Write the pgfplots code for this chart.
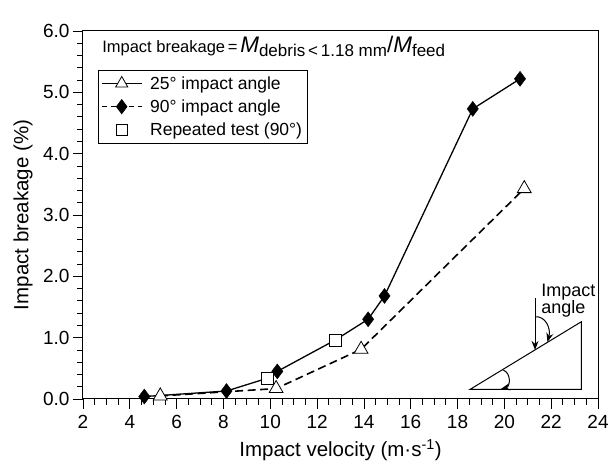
\documentclass[border=0pt]{standalone}
\usepackage{pgfplots}
\pgfplotsset{compat=1.18}
\usepackage{fontspec}
\setmainfont{Liberation Sans}
\usetikzlibrary{arrows.meta}

\pgfplotsset{
  linelegend/.style={legend image code/.code={\draw[mark repeat=2, mark phase=2, ##1] plot coordinates {(0pt,0pt) (20pt,0pt) (40pt,0pt)};}},
  sqlegend/.style={legend image code/.code={\draw[##1] plot coordinates {(20pt,0pt)};}},
}

\pgfplotstableread{
x y
5.30 0.05
10.25 0.17
13.88 0.81
20.85 3.43
}\tritable

\pgfplotstableread{
x y
4.62 0.04
8.13 0.13
9.89 0.34
10.30 0.45
12.77 0.96
14.18 1.30
14.88 1.68
18.65 4.73
20.67 5.22
}\linetable

\pgfplotstableread{
x y
4.62 0.04
8.13 0.13
10.30 0.45
14.18 1.30
14.88 1.68
18.65 4.73
20.67 5.22
}\diatable

\pgfplotstableread{
x y
9.89 0.34
12.77 0.96
}\sqtable

\begin{document}
\begin{tikzpicture}
\begin{axis}[
  name=ax,
  scale only axis, width=515pt, height=368pt,
  xmin=2, xmax=24, ymin=0, ymax=6,
  xtick={2,4,...,24}, minor x tick num=3,
  ytick={0,1,...,6}, minor y tick num=4,
  yticklabel style={/pgf/number format/.cd, fixed, fixed zerofill, precision=1},
  xticklabel style={yshift=-3pt},
  /pgf/number format/assume math mode=true,
  tick align=outside, xtick pos=lower, ytick pos=left,
  major tick length=10pt, minor tick length=6pt,
  tick style={black, line width=0.8pt},
  axis line style={line width=1pt},
  ticklabel style={font=\fontsize{19}{21}\selectfont},
  xlabel={Impact velocity (m·s\textsuperscript{-1})},
  ylabel={Impact breakage (\%)},
  xlabel style={font=\fontsize{20.5}{22}\selectfont, at={([yshift=-51pt]axis description cs:0.5,0)}, anchor=center},
  ylabel style={font=\fontsize{20.5}{22}\selectfont, at={([xshift=-60pt]axis description cs:0,0.5)}, anchor=center},
  legend style={at={(axis description cs:0.029,0.894)}, anchor=north west, draw=black, line width=0.8pt,
    font=\fontsize{17.5}{19}\selectfont, row sep=5pt, inner xsep=3pt, inner ysep=4pt},
  legend cell align=left,
]
\addplot[forget plot, black, line width=1.6pt, dash pattern=on 8pt off 4.5pt, mark=triangle*, mark size=8pt,
  mark options={solid, fill=white, line width=0.8pt}] table[x=x,y=y] {\tritable};
\addplot[forget plot, black, line width=1.3pt, no marks] table[x=x,y=y] {\linetable};
\addplot[forget plot, only marks, mark=diamond*, mark size=7.5pt, mark options={fill=black, draw=black}] table[x=x,y=y] {\diatable};
\addplot[forget plot, only marks, mark=square*, mark size=6pt, mark options={fill=white, draw=black, line width=0.8pt}] table[x=x,y=y] {\sqtable};

\addlegendimage{linelegend, black, line width=0.8pt, mark=triangle*, mark size=7pt, mark options={solid, fill=white}}
\addlegendentry{\hspace{6pt}25° impact angle\hspace{3pt}}
\addlegendimage{linelegend, black, line width=0.8pt, dash pattern=on 5pt off 4pt, mark=diamond*, mark size=7pt, mark options={solid, fill=black}}
\addlegendentry{\hspace{6pt}90° impact angle\hspace{3pt}}
\addlegendimage{sqlegend, black, only marks, mark=square*, mark size=5.5pt, mark options={solid, fill=white, draw=black, line width=0.8pt}}
\addlegendentry{\hspace{6pt}Repeated test (90°)\hspace{3pt}}

\node[anchor=west, inner sep=0pt] at (axis description cs:0.037,0.957)
  {\fontsize{16.5}{20}\selectfont Impact breakage\,=\,{\fontsize{22.5}{26}\selectfont\itshape M}\raisebox{-4pt}{\fontsize{17}{20}\selectfont debris\,<\,1.18 mm}{\fontsize{22.5}{26}\selectfont /\itshape M}\raisebox{-4pt}{\fontsize{17}{20}\selectfont feed}};

% inset sketch
\draw[line width=1pt] (axis cs:18.54,0.158) -- (axis cs:23.29,0.158) -- (axis cs:23.29,1.26) -- cycle;
\draw[line width=1pt, -{Stealth[length=9pt,width=7pt]}] (axis cs:21.31,1.65) -- (axis cs:21.31,0.80);
\draw[line width=1pt, -{Stealth[length=9pt,width=7pt]}] (axis cs:21.31,1.34) .. controls (axis cs:21.75,1.36) and (axis cs:22.0,1.15) .. (axis cs:21.84,0.93);
\draw[line width=1pt, -{Stealth[length=9pt,width=7pt]}] (axis cs:19.96,0.47) .. controls (axis cs:20.3,0.42) and (axis cs:20.25,0.2) .. (axis cs:19.85,0.163);
\node[anchor=west, align=left, inner sep=0pt, font=\fontsize{18}{17}\selectfont] at (axis cs:21.57,1.60) {Impact\\angle};
\end{axis}
\pgfresetboundingbox
\path ([shift={(-83pt,-65pt)}]ax.south west) rectangle ([shift={(11pt,31pt)}]ax.north east);
\end{tikzpicture}
\end{document}
